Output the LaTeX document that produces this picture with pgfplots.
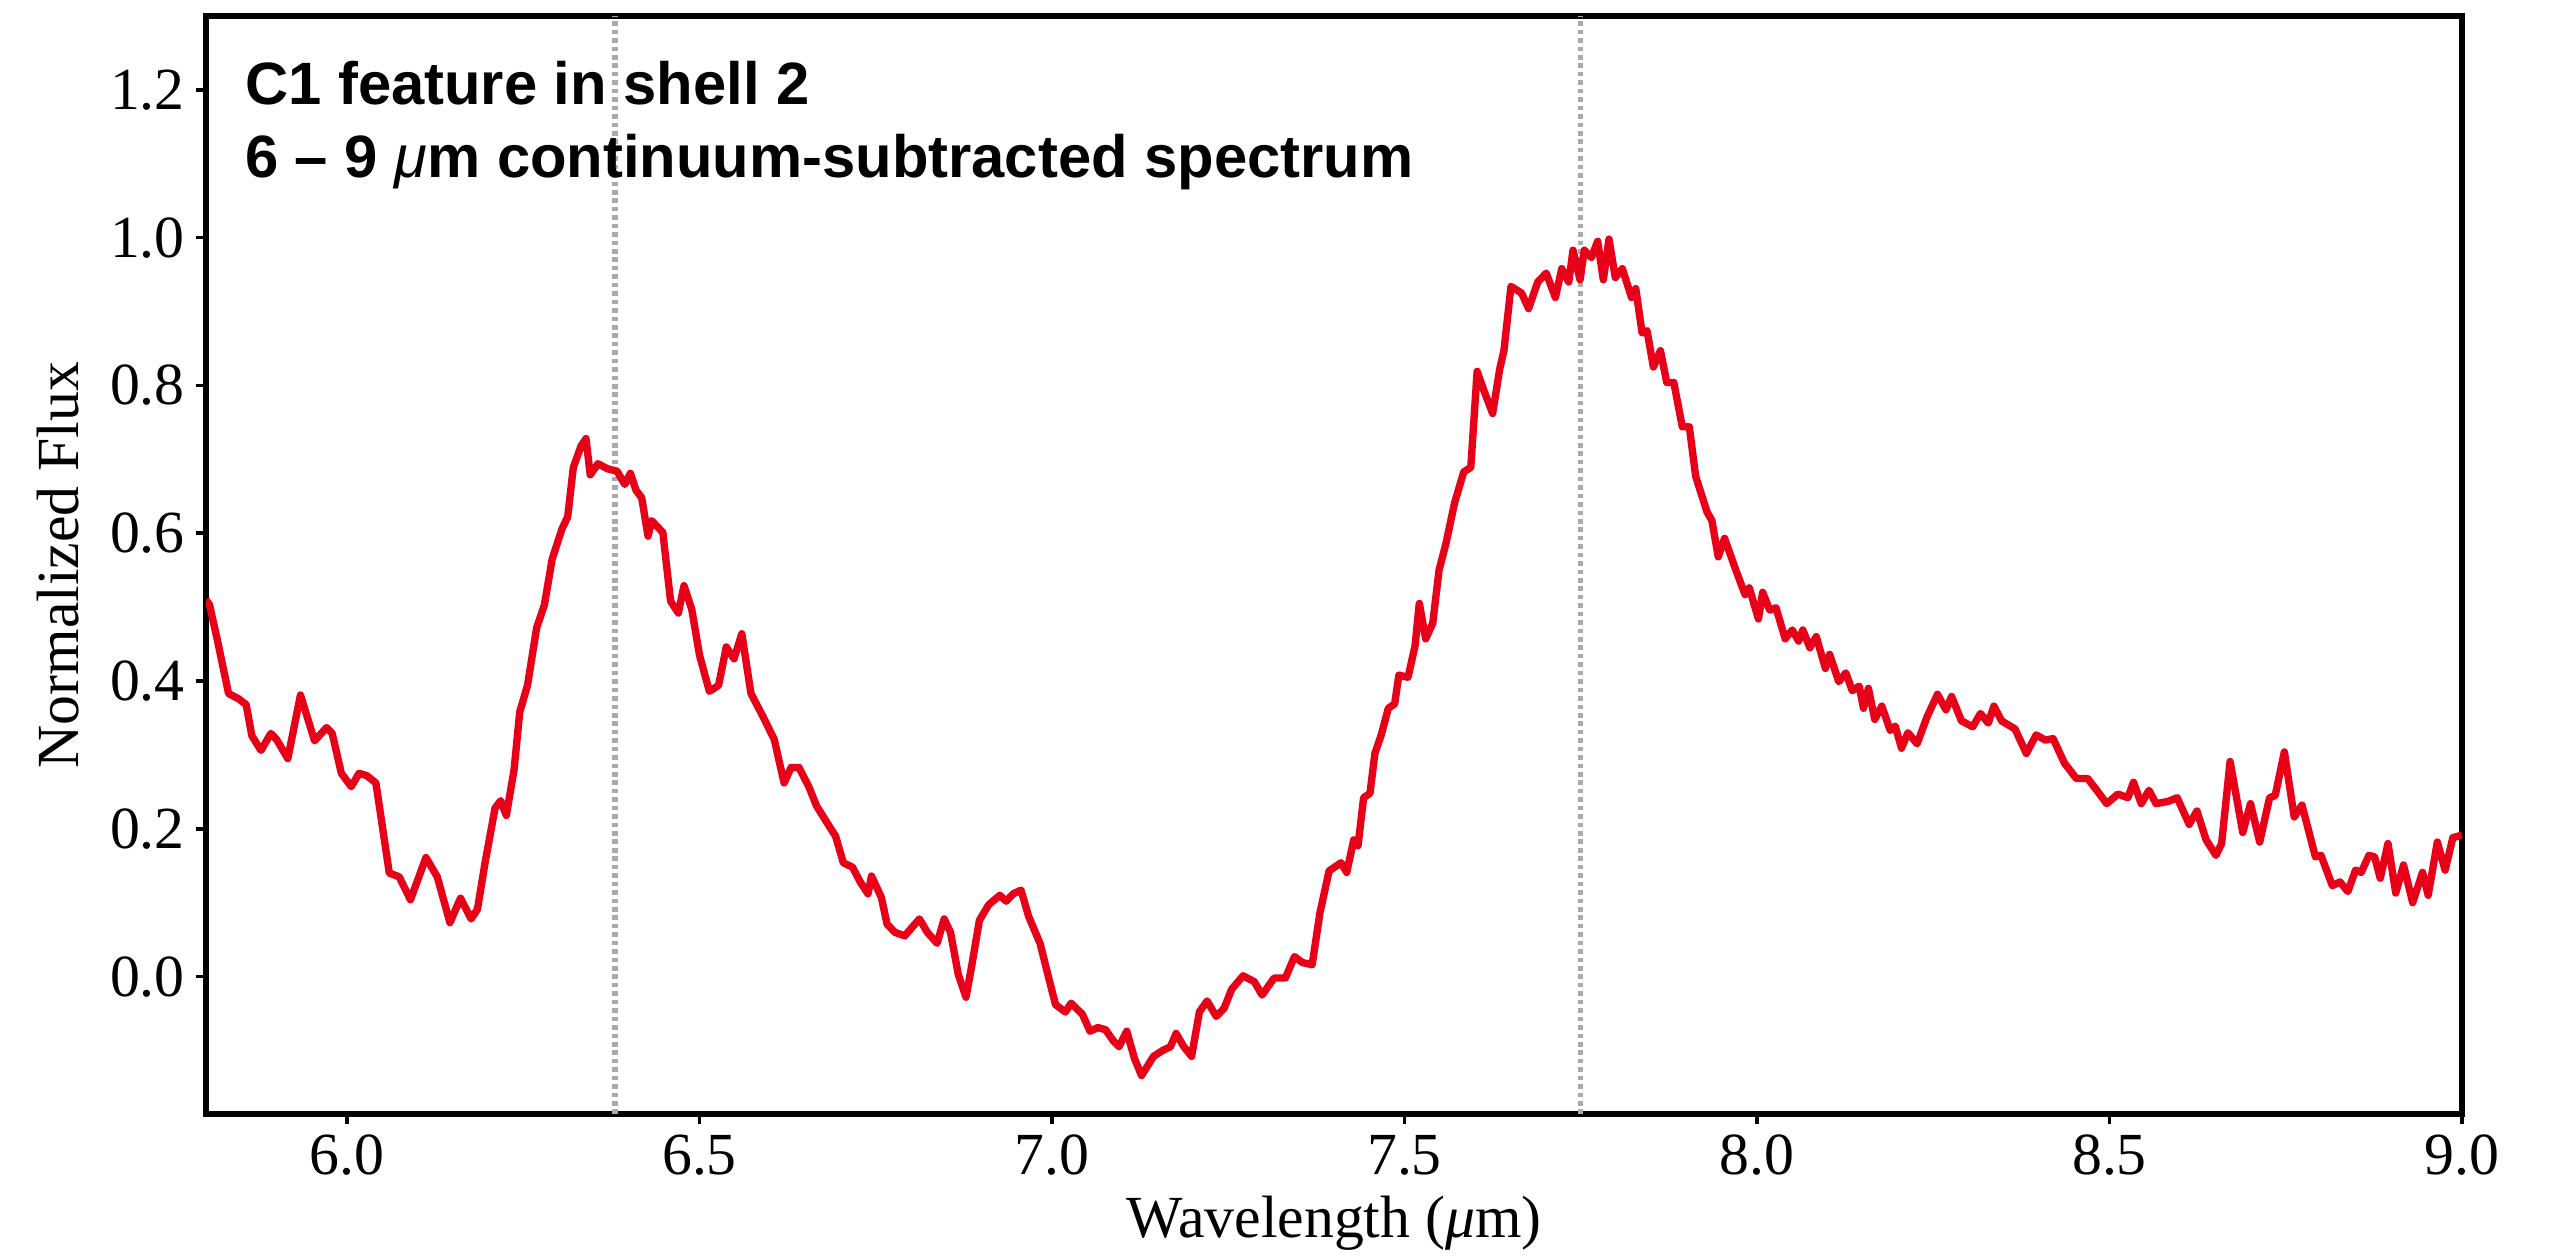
\documentclass[border=0pt]{standalone}
\usepackage{fontspec}
\setmainfont{Liberation Serif}
\newfontfamily\titlefont{Liberation Sans}
\usepackage{pgfplots}
\pgfplotsset{compat=1.18}
\definecolor{specred}{RGB}{232,0,24}
\definecolor{vgrey}{RGB}{170,170,170}
\begin{document}
\fontsize{17}{20}\selectfont
\begin{tikzpicture}
\begin{axis}[
  width=22.56cm, height=10.98cm, scale only axis,
  xmin=5.8, xmax=9.0, ymin=-0.186, ymax=1.3,
  axis line style={line width=1.6pt},
  xtick={6.0,6.5,7.0,7.5,8.0,8.5,9.0},
  ytick={0,0.2,0.4,0.6,0.8,1.0,1.2},
  xtick pos=bottom, ytick pos=left,
  tick align=outside,
  major tick length=0.1cm,
  every tick/.style={black, line width=1pt},
  tick label style={font=\fontsize{17}{20}\selectfont, inner sep=3pt},
  label style={font=\fontsize{17}{20}\selectfont},
  xlabel style={yshift=3pt},
  xlabel={Wavelength ({\itshape μ}m)},
  ylabel={Normalized Flux},
  /pgf/number format/fixed,
  /pgf/number format/fixed zerofill,
  /pgf/number format/precision=1,
  /pgf/number format/assume math mode=true,
]
\addplot[vgrey, line width=1.5pt, dash pattern=on 1.3pt off 1.1pt] coordinates {(6.38,-0.186) (6.38,1.3)};
\addplot[vgrey, line width=1.5pt, dash pattern=on 1.3pt off 1.1pt] coordinates {(7.75,-0.186) (7.75,1.3)};
\addplot[specred, line width=2.1pt, line join=round] coordinates {
(5.800,0.510) (5.805,0.503) (5.816,0.456) (5.832,0.383) (5.846,0.376) (5.857,0.368)
(5.865,0.326) (5.878,0.306) (5.892,0.329) (5.900,0.321) (5.916,0.295) (5.934,0.381)
(5.954,0.319) (5.971,0.337) (5.979,0.329) (5.992,0.275) (6.006,0.257) (6.017,0.275)
(6.028,0.272) (6.041,0.262) (6.060,0.140) (6.074,0.135) (6.090,0.104) (6.112,0.161)
(6.128,0.135) (6.146,0.073) (6.161,0.106) (6.176,0.078) (6.185,0.091) (6.196,0.155)
(6.210,0.228) (6.218,0.238) (6.226,0.218) (6.237,0.280) (6.245,0.358) (6.256,0.394)
(6.269,0.472) (6.280,0.503) (6.291,0.565) (6.305,0.606) (6.313,0.622) (6.321,0.689)
(6.332,0.718) (6.339,0.728) (6.345,0.679) (6.356,0.694) (6.370,0.687) (6.383,0.684)
(6.394,0.666) (6.402,0.681) (6.410,0.658) (6.418,0.648) (6.427,0.596) (6.432,0.617)
(6.448,0.601) (6.459,0.508) (6.470,0.492) (6.478,0.529) (6.489,0.497) (6.500,0.435)
(6.514,0.386) (6.527,0.394) (6.538,0.446) (6.549,0.430) (6.560,0.464) (6.573,0.383)
(6.590,0.352) (6.606,0.321) (6.620,0.262) (6.630,0.283) (6.641,0.283) (6.655,0.257)
(6.666,0.231) (6.679,0.211) (6.693,0.190) (6.704,0.154) (6.717,0.148) (6.728,0.128)
(6.739,0.112) (6.744,0.136) (6.758,0.107) (6.766,0.071) (6.777,0.060) (6.791,0.055)
(6.801,0.066) (6.812,0.078) (6.823,0.060) (6.837,0.045) (6.847,0.078) (6.856,0.060)
(6.867,0.003) (6.878,-0.028) (6.886,0.014) (6.897,0.076) (6.910,0.097) (6.926,0.110)
(6.935,0.102) (6.945,0.112) (6.956,0.117) (6.967,0.081) (6.983,0.045) (6.994,0.003)
(7.005,-0.038) (7.019,-0.048) (7.027,-0.036) (7.043,-0.051) (7.054,-0.074) (7.065,-0.069)
(7.076,-0.072) (7.087,-0.087) (7.095,-0.095) (7.106,-0.074) (7.117,-0.111) (7.127,-0.134)
(7.144,-0.108) (7.157,-0.100) (7.168,-0.095) (7.176,-0.077) (7.187,-0.095) (7.198,-0.108)
(7.209,-0.048) (7.220,-0.033) (7.233,-0.054) (7.244,-0.043) (7.255,-0.017) (7.271,0.001)
(7.287,-0.007) (7.298,-0.025) (7.315,-0.002) (7.331,-0.002) (7.344,0.027) (7.355,0.019)
(7.369,0.016) (7.380,0.086) (7.393,0.143) (7.410,0.154) (7.418,0.141) (7.428,0.185)
(7.434,0.177) (7.442,0.242) (7.451,0.248) (7.458,0.302) (7.467,0.327) (7.477,0.363)
(7.486,0.369) (7.492,0.408) (7.505,0.405) (7.515,0.448) (7.521,0.505) (7.530,0.457)
(7.540,0.478) (7.549,0.550) (7.559,0.587) (7.571,0.641) (7.584,0.683) (7.594,0.689)
(7.603,0.819) (7.613,0.792) (7.625,0.762) (7.635,0.822) (7.641,0.847) (7.651,0.934)
(7.666,0.925) (7.676,0.904) (7.689,0.940) (7.701,0.952) (7.714,0.919) (7.723,0.958)
(7.733,0.940) (7.739,0.983) (7.749,0.943) (7.755,0.983) (7.765,0.973) (7.774,0.995)
(7.782,0.943) (7.790,0.998) (7.799,0.946) (7.809,0.958) (7.822,0.919) (7.828,0.931)
(7.837,0.871) (7.844,0.874) (7.853,0.825) (7.863,0.847) (7.872,0.804) (7.882,0.804)
(7.894,0.744) (7.904,0.744) (7.913,0.677) (7.929,0.629) (7.936,0.617) (7.945,0.568)
(7.954,0.593) (7.970,0.550) (7.983,0.517) (7.989,0.526) (8.002,0.484) (8.008,0.520)
(8.018,0.496) (8.027,0.499) (8.040,0.457) (8.050,0.469) (8.059,0.454) (8.065,0.469)
(8.075,0.445) (8.084,0.460) (8.097,0.417) (8.103,0.436) (8.116,0.399) (8.126,0.411)
(8.135,0.387) (8.145,0.393) (8.151,0.363) (8.158,0.390) (8.167,0.348) (8.177,0.366)
(8.189,0.333) (8.196,0.339) (8.205,0.309) (8.214,0.330) (8.227,0.315) (8.241,0.351)
(8.256,0.382) (8.268,0.361) (8.276,0.379) (8.290,0.346) (8.306,0.338) (8.317,0.356)
(8.328,0.343) (8.336,0.366) (8.347,0.346) (8.366,0.335) (8.382,0.302) (8.396,0.327)
(8.409,0.320) (8.420,0.322) (8.436,0.289) (8.453,0.268) (8.469,0.268) (8.482,0.252)
(8.496,0.234) (8.512,0.247) (8.526,0.242) (8.534,0.263) (8.545,0.234) (8.556,0.252)
(8.566,0.234) (8.583,0.237) (8.596,0.242) (8.613,0.206) (8.624,0.224) (8.637,0.185)
(8.651,0.164) (8.659,0.180) (8.671,0.291) (8.689,0.195) (8.700,0.234) (8.713,0.182)
(8.727,0.242) (8.735,0.245) (8.748,0.304) (8.762,0.216) (8.773,0.232) (8.792,0.162)
(8.800,0.164) (8.816,0.123) (8.827,0.128) (8.838,0.115) (8.849,0.144) (8.857,0.141)
(8.868,0.164) (8.876,0.162) (8.884,0.133) (8.895,0.180) (8.906,0.113) (8.917,0.151)
(8.930,0.100) (8.944,0.141) (8.952,0.110) (8.965,0.182) (8.976,0.144) (8.987,0.188)
(8.995,0.190) (9.000,0.192)
};
\end{axis}
\node[anchor=north west, inner sep=0pt, align=left, font=\titlefont\bfseries\fontsize{17}{20.5}\selectfont]
  at ([shift={(0.385cm,-0.45cm)}]current axis.north west)
  {C1 feature in shell 2\\6 – 9 {\mdseries\itshape μ}m continuum-subtracted spectrum};
\pgfresetboundingbox
\path[use as bounding box] ([shift={(-2.06cm,-1.43cm)}]current axis.south west) rectangle ([shift={(0.88cm,0.16cm)}]current axis.north east);
\end{tikzpicture}
\end{document}
